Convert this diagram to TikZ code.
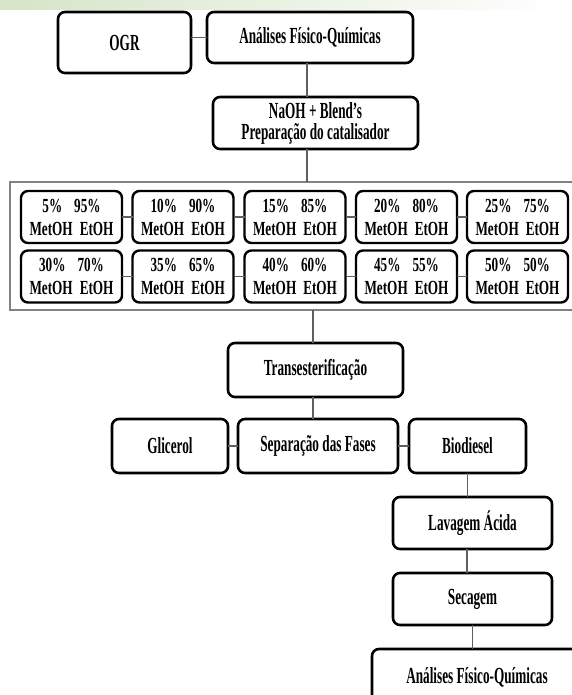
\documentclass[tikz,border=0pt]{standalone}
\usepackage{fontspec}
\setmainfont{Liberation Serif}[FakeStretch=0.575]
\newfontfamily\smallboxfont{Liberation Serif}[FakeStretch=0.66]
\definecolor{conncol}{RGB}{95,95,95}
\definecolor{framecol}{RGB}{130,130,130}
\definecolor{bandcol}{RGB}{214,228,200}
\tikzset{
  stepbox/.style={draw=black, line width=2.6pt, rounded corners=7pt, fill=white,
    inner sep=0pt, outer sep=0pt, align=center,
    font=\bfseries\fontsize{23}{21}\selectfont},
  ratiobox/.style={draw=black, line width=2.4pt, rounded corners=7pt, fill=white,
    inner sep=0pt, outer sep=0pt, align=center, minimum width=101pt, minimum height=52pt,
    font=\smallboxfont\bfseries\fontsize{20}{23}\selectfont},
  conn/.style={draw=conncol, line width=1.5pt},
  framebox/.style={draw=framecol, line width=2pt, inner sep=0pt, outer sep=0pt}
}
\newcommand{\ratio}[2]{#1\hspace{0.6em}#2\\MetOH\hspace{0.35em}EtOH}
\begin{document}
\begin{tikzpicture}[x=1pt,y=-1pt]
\useasboundingbox (0,0) rectangle (571,695);
\fill[white] (0,0) rectangle (571,695);
\shade[left color=bandcol, right color=white] (0,0) rectangle (560,10);

% top row
\node[stepbox, minimum width=133pt, minimum height=61pt] (ogr) at (124.5,42.5) {OGR};
\node[stepbox, minimum width=206pt, minimum height=51pt] (ana1) at (310,37.5) {Análises Físico-Químicas};
\node[stepbox, minimum width=205pt, minimum height=52pt] (naoh) at (315.5,123) {NaOH + Blend’s\\Preparação do catalisador};

% frame of blends
\node[framebox, minimum width=565pt, minimum height=128pt] (blends) at (292.5,246) {};

% ratio boxes
\node[ratiobox] (r1) at (71.5,217) {\ratio{5\%}{95\%}};
\node[ratiobox] (r2) at (183,217) {\ratio{10\%}{90\%}};
\node[ratiobox] (r3) at (295,217) {\ratio{15\%}{85\%}};
\node[ratiobox] (r4) at (406.5,217) {\ratio{20\%}{80\%}};
\node[ratiobox] (r5) at (517.5,217) {\ratio{25\%}{75\%}};
\node[ratiobox] (r6) at (71.5,276.5) {\ratio{30\%}{70\%}};
\node[ratiobox] (r7) at (183,276.5) {\ratio{35\%}{65\%}};
\node[ratiobox] (r8) at (295,276.5) {\ratio{40\%}{60\%}};
\node[ratiobox] (r9) at (406.5,276.5) {\ratio{45\%}{55\%}};
\node[ratiobox] (r10) at (517.5,276.5) {\ratio{50\%}{50\%}};

% lower flow
\node[stepbox, minimum width=175pt, minimum height=54pt] (trans) at (315.5,370) {Transesterificação};
\node[stepbox, minimum width=116pt, minimum height=54pt] (glic) at (170,446) {Glicerol};
\node[stepbox, minimum width=160pt, minimum height=54pt] (sep) at (318,446) {Separação das Fases};
\node[stepbox, minimum width=117pt, minimum height=54pt] (bio) at (467.5,446) {Biodiesel};
\node[stepbox, minimum width=159pt, minimum height=52pt] (lav) at (472.5,523) {Lavagem Ácida};
\node[stepbox, minimum width=159pt, minimum height=52pt] (sec) at (472.5,599) {Secagem};
\node[stepbox, minimum width=210pt, minimum height=56pt] (ana2) at (477,677) {Análises Físico-Químicas};

% connectors
\draw[conn] (ogr.east |- ana1.west) -- (ana1.west);
\draw[conn] ([xshift=-3pt]ana1.south) -- ([xshift=-3pt]ana1.south |- naoh.north);
\draw[conn] ([xshift=-8.5pt]naoh.south) -- ([xshift=-8.5pt]naoh.south |- blends.north);
\foreach \a/\b in {r1/r2,r2/r3,r3/r4,r4/r5,r6/r7,r7/r8,r8/r9,r9/r10}
  \draw[conn] (\a.east) -- (\b.west);
\draw[conn] ([xshift=-2.5pt]trans.north |- blends.south) -- ([xshift=-2.5pt]trans.north);
\draw[conn] ([xshift=-2.5pt]trans.south) -- ([xshift=-2.5pt]trans.south |- sep.north);
\draw[conn] (glic.east) -- (sep.west);
\draw[conn] (sep.east) -- (bio.west);
\draw[conn] (bio.south) -- (bio.south |- lav.north);
\draw[conn] ([xshift=-5.5pt]lav.south) -- ([xshift=-5.5pt]lav.south |- sec.north);
\draw[conn] (sec.south) -- (sec.south |- ana2.north);
\end{tikzpicture}
\end{document}
